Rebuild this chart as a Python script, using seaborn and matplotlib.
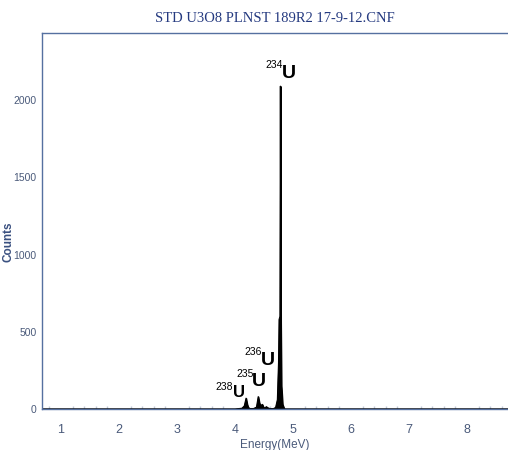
import matplotlib
matplotlib.use("Agg")
import matplotlib.pyplot as plt
import seaborn as sns
import pandas as pd
from matplotlib.ticker import MultipleLocator

# Spectrum (energy in MeV, counts)
energy = [0.67, 4.00, 4.12, 4.16, 4.19, 4.21, 4.23, 4.26, 4.32, 4.37, 4.40, 4.42, 4.44,
          4.47, 4.49, 4.51, 4.54, 4.56, 4.60, 4.66, 4.70, 4.73, 4.75, 4.76, 4.775,
          4.782, 4.79, 4.80, 4.82, 4.85, 8.71]
counts = [0, 0, 5, 20, 70, 30, 8, 3, 3, 12, 80, 40, 20,
          30, 12, 5, 15, 8, 3, 2, 10, 60, 300, 580, 600,
          2090, 560, 150, 30, 0, 0]

peak_labels = ["238", "235", "236", "234"]
label_mass_x = [3.97, 4.33, 4.47, 4.83]
label_mass_y = [142, 226, 369, 2227]
label_u_x = [4.07, 4.42, 4.57, 4.93]
label_u_y = [104, 181, 317, 2175]

title = "STD U3O8 PLNST 189R2 17-9-12.CNF"
x_ticks = [1, 2, 3, 4, 5, 6, 7, 8]
y_ticks = [0, 500, 1000, 1500, 2000]

df = pd.DataFrame({"Energy": energy, "Counts": counts})

sns.set_theme(style="white")
plt.rcParams['font.family'] = ['Liberation Sans', 'DejaVu Sans']

fig = plt.figure(figsize=(5.08, 4.5), dpi=100)
ax = fig.add_axes([42/508, 41/450, 1 - 42/508, (409-33)/450])

sns.lineplot(data=df, x="Energy", y="Counts", ax=ax, color="black", linewidth=0.8)
ax.fill_between(df["Energy"], df["Counts"], color="black")

ax.set_xlim(0.672, 8.707)
ax.set_ylim(0, 2434)
ax.set_xticks(x_ticks)
ax.set_yticks(y_ticks)
ax.xaxis.set_minor_locator(MultipleLocator(0.2))

spine_col = "#5570a0"
for s in ["left", "bottom", "top"]:
    ax.spines[s].set_color(spine_col)
    ax.spines[s].set_linewidth(1.0)
ax.spines["right"].set_visible(False)

ax.tick_params(axis="both", which="major", direction="in", length=3, color="#aab4c8",
               labelcolor="#4a5a7a")
ax.tick_params(axis="x", which="major", labelsize=9, pad=11)
ax.tick_params(axis="y", which="major", labelsize=7.5, pad=4)
ax.tick_params(axis="x", which="minor", direction="in", length=2.5, color="#c0c8d8", bottom=True)

ax.set_xlabel("Energy(MeV)", fontsize=8.5, color="#4a5a7a", labelpad=2)
ax.set_ylabel("Counts", fontsize=8.5, color="#3a5080", fontweight="bold")
ax.yaxis.set_label_coords(-0.058, 0.444)

fig.text(275/508, 1 - 19/450, title, ha="center", va="center", fontsize=10.5,
         color="#253a80", family=["Liberation Serif", "DejaVu Serif"])

for m, mx, my, ux, uy in zip(peak_labels, label_mass_x, label_mass_y, label_u_x, label_u_y):
    ax.text(mx, my, m, ha="right", va="center", fontsize=7.5, color="black")
    ax.text(ux, uy, "U", ha="center", va="center", fontsize=14 if m != "238" else 12,
            fontweight="bold", color="black")

fig.savefig("out.png", dpi=100)
